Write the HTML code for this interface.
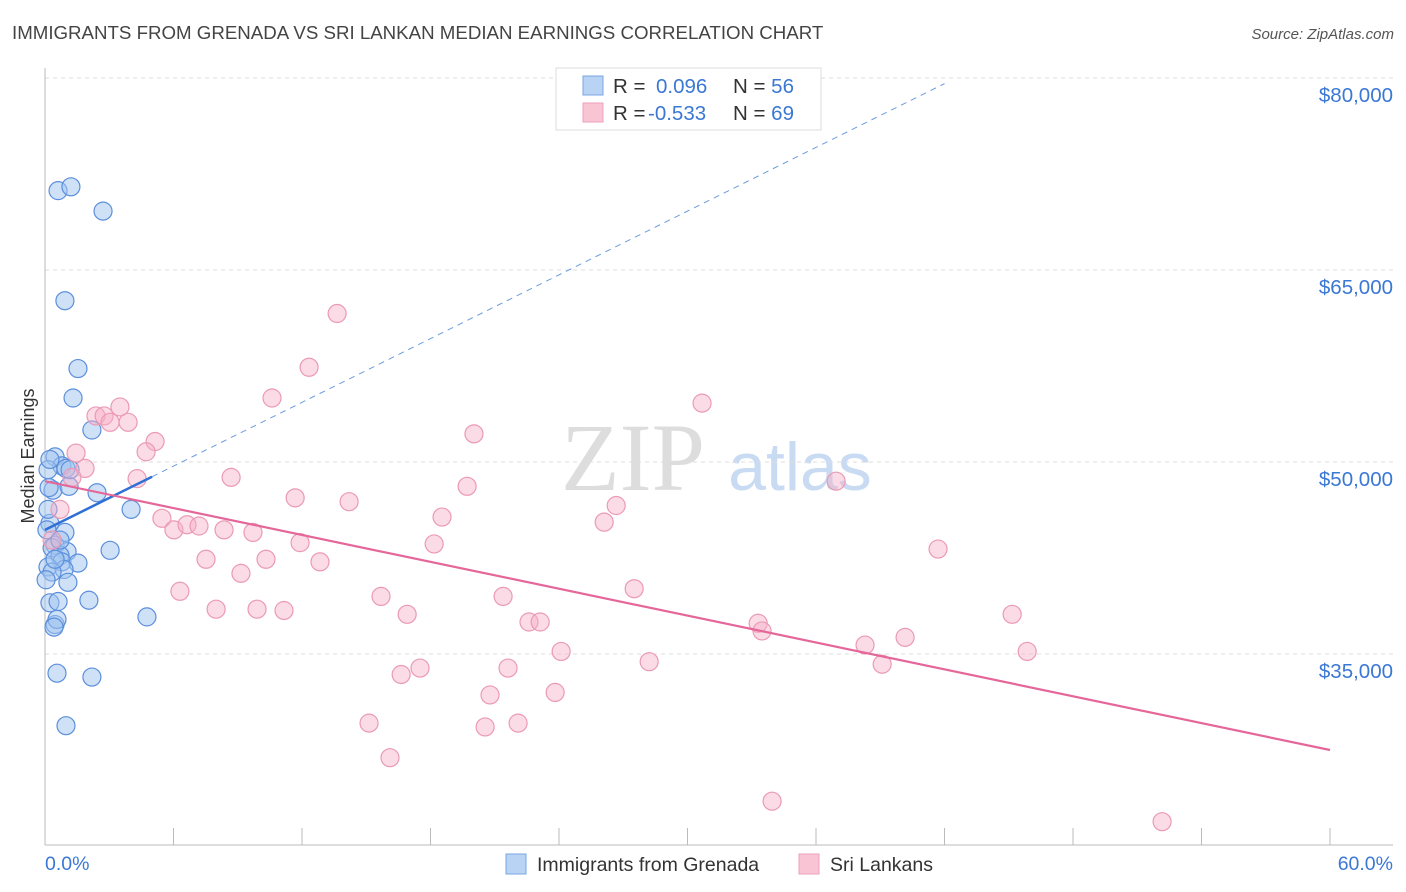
<!DOCTYPE html>
<html><head><meta charset="utf-8"><style>
body{margin:0;background:#fff;font-family:"Liberation Sans",sans-serif;}
svg{display:block}
</style></head><body>
<svg id="chart" width="1406" height="892">
<text x="12" y="39" font-size="18.7" fill="#444">IMMIGRANTS FROM GRENADA VS SRI LANKAN MEDIAN EARNINGS CORRELATION CHART</text>
<text x="1394" y="39" font-size="15" fill="#555" font-style="italic" text-anchor="end">Source: ZipAtlas.com</text>
<text x="633" y="490" font-size="96" fill="#ddd" font-family="Liberation Serif,serif" text-anchor="middle">ZIP</text>
<text x="800" y="490" font-size="68" fill="#c9dbf3" text-anchor="middle">atlas</text>
<g id="grid"></g><g id="axes"></g><g id="pts"></g><g id="lines"></g>
<text x="34" y="456" font-size="18" fill="#333" text-anchor="middle" transform="rotate(-90 34 456)">Median Earnings</text>
<g>
<rect x="556" y="68" width="265" height="62" fill="#fff" stroke="#ddd"/>
<rect x="583" y="76" width="20" height="19" fill="#b9d3f5" stroke="#7aa5e3"/>
<rect x="583" y="103" width="20" height="19" fill="#f9c5d5" stroke="#eea0ba"/>
<text x="613" y="93" font-size="20.5" fill="#333">R = <tspan fill="#3a78d4" x="656">0.096</tspan><tspan x="733" fill="#333">N = </tspan><tspan fill="#3a78d4">56</tspan></text>
<text x="613" y="120" font-size="20.5" fill="#333">R = <tspan fill="#3a78d4" x="648">-0.533</tspan><tspan x="733" fill="#333">N = </tspan><tspan fill="#3a78d4">69</tspan></text>
</g>
<g>
<rect x="506" y="854" width="20" height="20" fill="#b9d3f5" stroke="#7aa5e3"/>
<text x="537" y="871" font-size="19.5" fill="#333">Immigrants from Grenada</text>
<rect x="799" y="854" width="20" height="20" fill="#f9c5d5" stroke="#eea0ba"/>
<text x="830" y="871" font-size="19.5" fill="#333">Sri Lankans</text>
</g>
</svg>
<script>
const yTicks=[80000,65000,50000,35000];
const yTickLabels=["$80,000","$65,000","$50,000","$35,000"];
const xTickLabels=["0.0%","60.0%"];
const blueX=[0.61,1.21,2.71,0.93,1.54,1.31,2.19,0.47,0.79,0.14,0.98,0.37,0.19,2.43,4.02,1.12,0.23,0.93,0.09,0.47,0.33,1.03,0.70,3.04,0.79,1.54,0.14,0.89,0.33,1.07,0.23,0.61,2.05,0.47,0.56,0.42,4.76,0.56,2.19,0.98,0.05,0.70,0.47,1.17,0.14,0.23];
const blueY=[71.2,71.5,69.6,62.6,57.3,55.0,52.5,50.4,49.7,49.4,49.5,47.8,48.0,47.6,46.3,48.1,45.2,44.5,44.7,43.5,43.3,43.0,42.7,43.1,42.2,42.1,41.8,41.6,41.4,40.6,39.0,39.1,39.2,37.3,37.7,37.1,37.9,33.5,33.2,29.4,40.8,43.9,42.4,49.4,46.3,50.2];
const pinkX=[13.64,12.33,10.60,30.68,20.03,3.50,2.38,2.76,3.88,3.04,5.14,4.72,1.45,1.87,1.26,8.69,4.30,36.94,19.71,11.68,14.20,26.67,18.54,5.46,26.11,6.02,6.63,7.19,8.36,9.71,11.91,18.17,41.70,7.52,10.32,12.84,9.15,6.30,27.51,21.39,15.69,7.99,9.90,11.16,16.91,45.16,22.60,23.12,33.30,33.48,40.16,38.29,45.86,24.10,28.21,39.09,17.51,16.63,21.62,20.78,23.82,15.13,20.55,22.09,16.11,33.95,52.16,0.70,0.33];
const pinkY=[61.6,57.4,55.0,54.6,52.2,54.3,53.6,53.6,53.1,53.1,51.6,50.8,50.7,49.5,48.8,48.8,48.7,48.5,48.1,47.2,46.9,46.6,45.7,45.6,45.3,44.7,45.1,45.0,44.7,44.5,43.7,43.6,43.2,42.4,42.4,42.2,41.3,39.9,40.1,39.5,39.5,38.5,38.5,38.4,38.1,38.1,37.5,37.5,37.4,36.8,36.3,35.7,35.2,35.2,34.4,34.2,33.9,33.4,33.9,31.8,32.0,29.6,29.3,29.6,26.9,23.5,21.9,46.3,43.9];
const blueTrend=[44.7,0.83];
const pinkTrend=[48.5,-0.35];
const NS="http://www.w3.org/2000/svg";
const xs=v=>45+v/60*1285;
const ys=v=>462-(v-50000)*0.0128;
const ysk=v=>ys(v*1000);
function mk(tag,attrs,parent){const e=document.createElementNS(NS,tag);for(const k in attrs)e.setAttribute(k,attrs[k]);document.getElementById(parent).appendChild(e);return e;}
yTicks.forEach((t,i)=>{
 const l=mk('line',{x1:45,x2:1393,y1:ys(t),y2:ys(t),stroke:'#ddd','stroke-dasharray':'4 4'},'grid');
 
 
 const tx=mk('text',{x:1393,y:ys(t)+24,'font-size':20.5,fill:'#3a78d4','text-anchor':'end'},'grid');
 tx.textContent=yTickLabels[i];
 
 
});
const ax=mk('line',{x1:45,x2:45,y1:68,y2:845,stroke:'#bbb'},'axes');


const bx=mk('line',{x1:45,x2:1393,y1:845,y2:845,stroke:'#bbb'},'axes');


for(let i=1;i<=10;i++){const t=mk('line',{x1:xs(i*6),x2:xs(i*6),y1:828,y2:845,stroke:'#bbb'},'axes');
 
 }
[[0,xTickLabels[0],'start',45],[60,xTickLabels[1],'end',1393]].forEach(a=>{
 const t=mk('text',{x:a[3],y:870,'font-size':19.5,fill:'#3a78d4','text-anchor':a[2]},'axes');t.textContent=a[1];
 
 });
blueX.forEach((x,i)=>{const c=mk('circle',{cx:xs(x),cy:ysk(blueY[i]),r:9,fill:'rgba(160,196,240,0.5)',stroke:'#5b8fdc','stroke-width':1.2},'pts');
 
 });
pinkX.forEach((x,i)=>{const c=mk('circle',{cx:xs(x),cy:ysk(pinkY[i]),r:9,fill:'rgba(247,175,200,0.45)',stroke:'#eb9ab4','stroke-width':1.2},'pts');
 
 });
const bt=x=>blueTrend[0]+blueTrend[1]*x, pt=x=>pinkTrend[0]+pinkTrend[1]*x;
const l1=mk('line',{x1:xs(0),y1:ysk(bt(0)),x2:xs(5),y2:ysk(bt(5)),stroke:'#2f6fd6','stroke-width':2.5},'lines');


const l2=mk('line',{x1:xs(5),y1:ysk(bt(5)),x2:xs(42),y2:ysk(bt(42)),stroke:'#6b9be0','stroke-width':1,'stroke-dasharray':'6 5'},'lines');


const l3=mk('line',{x1:xs(0),y1:ysk(pt(0)),x2:xs(60),y2:ysk(pt(60)),stroke:'#e5679a','stroke-width':2.2},'lines');


</script>
</body></html>
